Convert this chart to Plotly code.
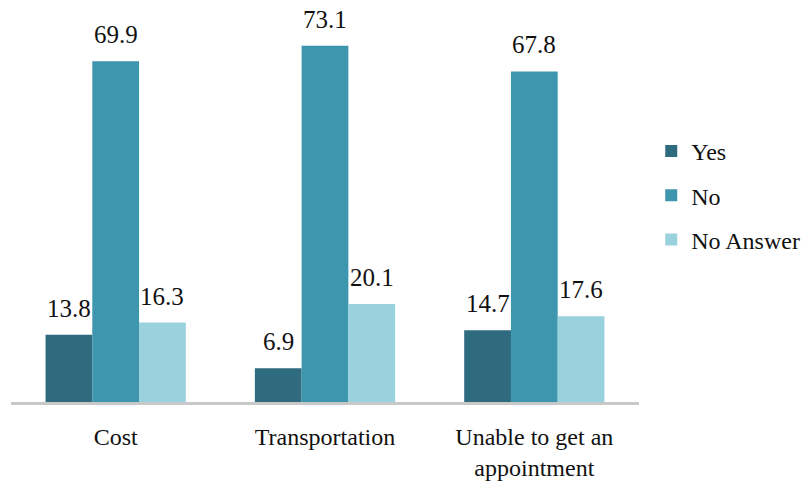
import plotly.graph_objects as go

categories = ["Cost", "Transportation", "Unable to get an<br>appointment"]
yes_values = [13.8, 6.9, 14.7]
no_values = [69.9, 73.1, 67.8]
no_answer_values = [16.3, 20.1, 17.6]

series = [
    ("Yes", yes_values, "#2E6B7E"),
    ("No", no_values, "#3D95AE"),
    ("No Answer", no_answer_values, "#99D1DD"),
]

FONT = "Liberation Serif"
BARGAP = 0.33
n_series = len(series)
bar_w = (1 - BARGAP) / n_series
xpos = list(range(len(categories)))

fig = go.Figure()
for i, (name, vals, color) in enumerate(series):
    fig.add_trace(go.Bar(
        name=name,
        x=xpos,
        y=vals,
        marker=dict(color=color, line=dict(width=0)),
        legendgroup=f"g{i}",
    ))
    offset = (i - (n_series - 1) / 2) * bar_w
    for xi, v in zip(xpos, vals):
        fig.add_annotation(
            x=xi + offset, y=v, xref="x", yref="y",
            text=f"{v:.1f}", showarrow=False,
            yanchor="bottom", yshift=11,
            font=dict(family=FONT, size=25, color="#111111"),
        )

fig.update_layout(
    width=806,
    height=483,
    barmode="group",
    bargap=BARGAP,
    bargroupgap=0,
    plot_bgcolor="white",
    paper_bgcolor="white",
    margin=dict(l=11, r=167, t=12, b=81, autoexpand=False),
    font=dict(family=FONT, size=24, color="#111111"),
    showlegend=True,
    legend=dict(
        xref="container", yref="container",
        x=0.808, y=0.733,
        xanchor="left", yanchor="top",
        font=dict(family=FONT, size=24, color="#111111"),
        tracegroupgap=10,
        bgcolor="rgba(0,0,0,0)",
    ),
    xaxis=dict(
        showline=True, linecolor="#C8C8C8", linewidth=2.5,
        ticks="", showgrid=False, automargin=False,
        tickmode="array", tickvals=xpos, ticktext=categories,
        range=[-0.5, len(categories) - 0.5],
        ticklabelstandoff=11,
        tickfont=dict(family=FONT, size=24, color="#111111"),
    ),
    yaxis=dict(
        range=[0, 80], visible=False, showgrid=False, zeroline=False,
    ),
)

fig.write_html("out.html")
